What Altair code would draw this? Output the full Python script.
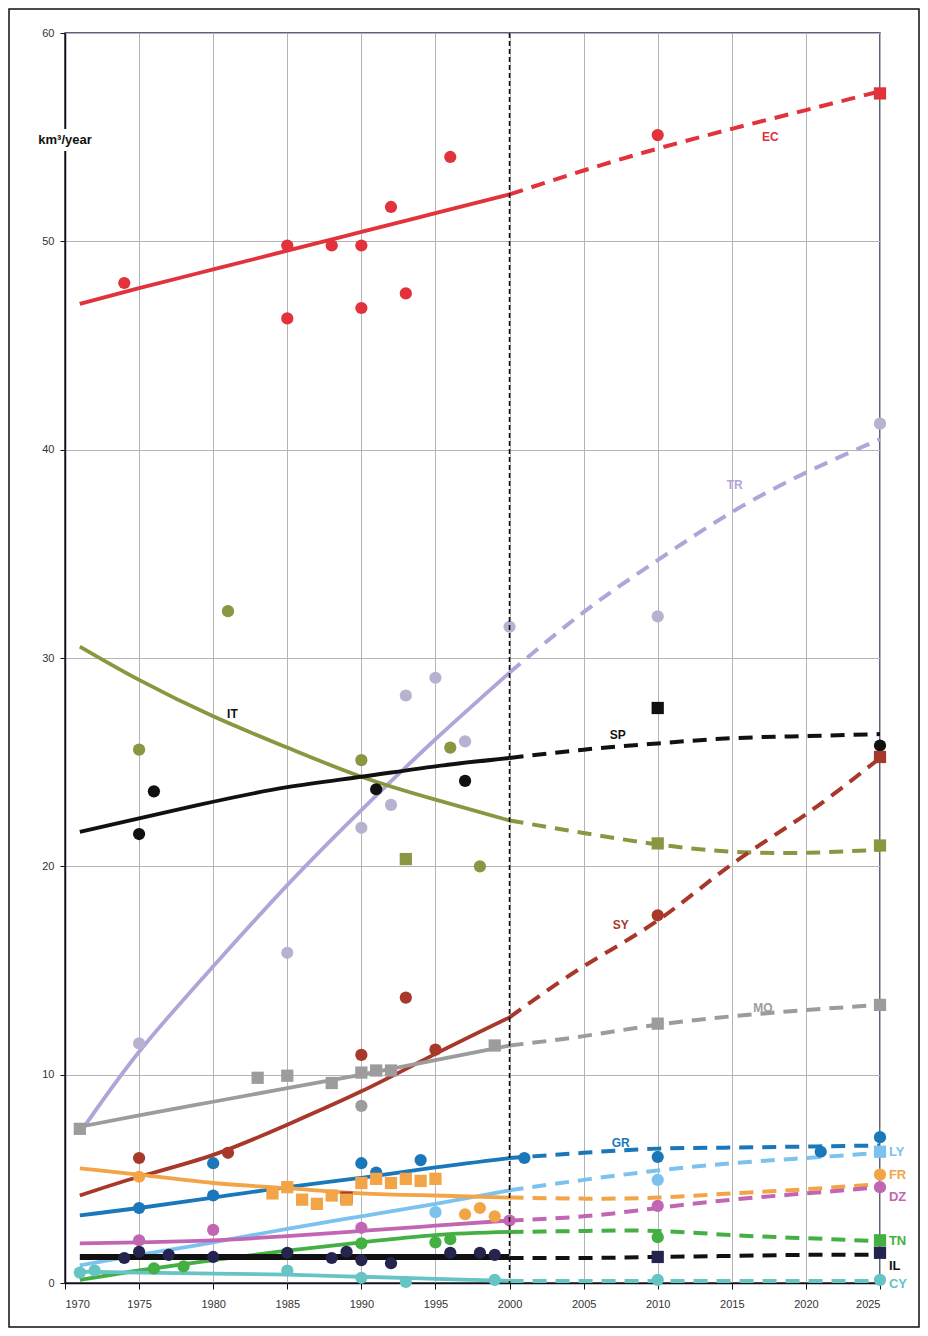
import altair as alt
import pandas as pd

# ---------------- data ----------------
SERIES = ["EC", "TR", "IT", "SP", "SY", "MO", "GR", "LY", "FR", "DZ", "TN", "IL", "CY"]

FIT_YEARS = [1971, 1975, 1980, 1985, 1990, 1995, 2000]
PROJ_YEARS = [2000, 2005, 2010, 2015, 2020, 2025]

EC_FIT = [47.0, 47.75, 48.65, 49.55, 50.45, 51.35, 52.25]
TR_FIT = [7.2, 11.1, 15.2, 19.1, 22.7, 26.1, 29.3]
IT_FIT = [30.55, 28.95, 27.2, 25.7, 24.3, 23.2, 22.2]
SP_FIT = [21.65, 22.3, 23.1, 23.8, 24.3, 24.8, 25.2]
SY_FIT = [4.2, 5.1, 6.15, 7.6, 9.2, 11.0, 12.75]
MO_FIT = [7.5, 8.05, 8.7, 9.35, 10.0, 10.7, 11.4]
GR_FIT = [3.25, 3.6, 4.1, 4.6, 5.05, 5.55, 6.0]
LY_FIT = [0.85, 1.35, 1.95, 2.6, 3.2, 3.8, 4.45]
FR_FIT = [5.5, 5.2, 4.8, 4.55, 4.3, 4.2, 4.1]
DZ_FIT = [1.9, 1.95, 2.05, 2.25, 2.5, 2.75, 3.0]
TN_FIT = [0.15, 0.6, 1.1, 1.55, 1.95, 2.3, 2.45]
IL_FIT = [1.25, 1.25, 1.25, 1.25, 1.25, 1.25, 1.25]
CY_FIT = [0.55, 0.5, 0.45, 0.4, 0.3, 0.2, 0.1]

EC_PROJ = [52.25, 53.4, 54.45, 55.4, 56.3, 57.2]
TR_PROJ = [29.3, 32.2, 34.7, 37.0, 38.9, 40.5]
IT_PROJ = [22.2, 21.6, 21.05, 20.7, 20.65, 20.8]
SP_PROJ = [25.2, 25.6, 25.9, 26.15, 26.25, 26.35]
SY_PROJ = [12.75, 15.2, 17.4, 20.1, 22.5, 25.2]
MO_PROJ = [11.4, 11.85, 12.4, 12.8, 13.1, 13.35]
GR_PROJ = [6.0, 6.25, 6.45, 6.5, 6.55, 6.6]
LY_PROJ = [4.45, 4.95, 5.4, 5.75, 6.0, 6.25]
FR_PROJ = [4.1, 4.05, 4.1, 4.3, 4.5, 4.75]
DZ_PROJ = [3.0, 3.2, 3.6, 4.0, 4.3, 4.6]
TN_PROJ = [2.45, 2.5, 2.5, 2.3, 2.15, 2.0]
IL_PROJ = [1.2, 1.2, 1.25, 1.3, 1.35, 1.35]
CY_PROJ = [0.1, 0.1, 0.1, 0.1, 0.1, 0.1]

# observed points: (year, value, marker)
EC_OBS = [(1974, 48.0, "circle"), (1985, 49.8, "circle"), (1985, 46.3, "circle"),
          (1988, 49.8, "circle"), (1990, 49.8, "circle"), (1990, 46.8, "circle"),
          (1992, 51.65, "circle"), (1993, 47.5, "circle"), (1996, 54.05, "circle"),
          (2010, 55.1, "circle"), (2025, 57.1, "square")]
TR_OBS = [(1975, 11.5, "circle"), (1985, 15.85, "circle"), (1990, 21.85, "circle"),
          (1992, 22.95, "circle"), (1993, 28.2, "circle"), (1995, 29.05, "circle"),
          (1997, 26.0, "circle"), (2000, 31.5, "circle"), (2010, 32.0, "circle"),
          (2025, 41.25, "circle")]
IT_OBS = [(1975, 25.6, "circle"), (1981, 32.25, "circle"), (1990, 25.1, "circle"),
          (1993, 20.35, "square"), (1996, 25.7, "circle"), (1998, 20.0, "circle"),
          (2010, 21.1, "square"), (2025, 21.0, "square")]
SP_OBS = [(1975, 21.55, "circle"), (1976, 23.6, "circle"), (1991, 23.7, "circle"),
          (1997, 24.1, "circle"), (2010, 27.6, "square"), (2025, 25.8, "circle")]
SY_OBS = [(1975, 6.0, "circle"), (1981, 6.25, "circle"), (1989, 4.1, "square"),
          (1990, 10.95, "circle"), (1993, 13.7, "circle"), (1995, 11.2, "circle"),
          (2010, 17.65, "circle"), (2025, 25.25, "square")]
MO_OBS = [(1971, 7.4, "square"), (1983, 9.85, "square"), (1985, 9.95, "square"),
          (1988, 9.6, "square"), (1990, 8.5, "circle"), (1990, 10.1, "square"),
          (1991, 10.2, "square"), (1992, 10.2, "square"), (1999, 11.4, "square"),
          (2010, 12.45, "square"), (2025, 13.35, "square")]
GR_OBS = [(1975, 3.6, "circle"), (1980, 5.75, "circle"), (1980, 4.2, "circle"),
          (1990, 5.75, "circle"), (1991, 5.3, "circle"), (1994, 5.9, "circle"),
          (2001, 6.0, "circle"), (2010, 6.05, "circle"), (2021, 6.3, "circle"),
          (2025, 7.0, "circle")]
LY_OBS = [(1995, 3.4, "circle"), (2010, 4.95, "circle"), (2025, 6.3, "square")]
FR_OBS = [(1975, 5.1, "circle"), (1984, 4.3, "square"), (1985, 4.6, "square"),
          (1986, 4.0, "square"), (1987, 3.8, "square"), (1988, 4.2, "square"),
          (1989, 4.0, "square"), (1990, 4.8, "square"), (1991, 5.0, "square"),
          (1992, 4.8, "square"), (1993, 5.0, "square"), (1994, 4.9, "square"),
          (1995, 5.0, "square"), (1997, 3.3, "circle"), (1998, 3.6, "circle"),
          (1999, 3.2, "circle"), (2025, 5.2, "circle")]
DZ_OBS = [(1975, 2.05, "circle"), (1980, 2.55, "circle"), (1990, 2.65, "circle"),
          (2000, 3.0, "circle"), (2010, 3.7, "circle"), (2025, 4.6, "circle")]
TN_OBS = [(1976, 0.7, "circle"), (1978, 0.8, "circle"), (1990, 1.9, "circle"),
          (1995, 1.95, "circle"), (1996, 2.1, "circle"), (2010, 2.2, "circle"),
          (2025, 2.05, "square")]
IL_OBS = [(1974, 1.2, "circle"), (1975, 1.5, "circle"), (1977, 1.35, "circle"),
          (1980, 1.25, "circle"), (1985, 1.45, "circle"), (1988, 1.2, "circle"),
          (1989, 1.5, "circle"), (1990, 1.1, "circle"), (1992, 0.95, "circle"),
          (1996, 1.45, "circle"), (1998, 1.45, "circle"), (1999, 1.35, "circle"),
          (2010, 1.25, "square"), (2025, 1.45, "square")]
CY_OBS = [(1971, 0.5, "circle"), (1972, 0.6, "circle"), (1985, 0.6, "circle"),
          (1990, 0.25, "circle"), (1993, 0.05, "circle"), (1999, 0.15, "circle"),
          (2010, 0.15, "circle"), (2025, 0.15, "circle")]

# label anchors (year, value)
LABELS = {"EC": (2017.6, 55.0), "TR": (2015.2, 38.3), "IT": (1981.3, 27.3),
          "SP": (2007.3, 26.3), "SY": (2007.5, 17.2), "MO": (2017.1, 13.2),
          "GR": (2007.5, 6.7), "LY": (2025.6, 6.3), "FR": (2025.6, 5.2),
          "DZ": (2025.6, 4.15), "TN": (2025.6, 2.0), "IL": (2025.6, 0.8),
          "CY": (2025.6, -0.05)}

LINE_COLORS = {"EC": "#e2323c", "TR": "#b2a4d8", "IT": "#8c9640", "SP": "#111111",
               "SY": "#a8382a", "MO": "#9c9c9c", "GR": "#1a78ba", "LY": "#7cc2ee",
               "FR": "#f2a446", "DZ": "#c266b4", "TN": "#44b044", "IL": "#111111",
               "CY": "#66c4c4"}
POINT_COLORS = dict(LINE_COLORS, TR="#b8b2d0", IL="#24244e")
LABEL_COLORS = dict(LINE_COLORS, IT="#111111", IL="#111111")

FIT = {"EC": EC_FIT, "TR": TR_FIT, "IT": IT_FIT, "SP": SP_FIT, "SY": SY_FIT,
       "MO": MO_FIT, "GR": GR_FIT, "LY": LY_FIT, "FR": FR_FIT, "DZ": DZ_FIT,
       "TN": TN_FIT, "IL": IL_FIT, "CY": CY_FIT}
PROJ = {"EC": EC_PROJ, "TR": TR_PROJ, "IT": IT_PROJ, "SP": SP_PROJ, "SY": SY_PROJ,
        "MO": MO_PROJ, "GR": GR_PROJ, "LY": LY_PROJ, "FR": FR_PROJ, "DZ": DZ_PROJ,
        "TN": TN_PROJ, "IL": IL_PROJ, "CY": CY_PROJ}
OBS = {"EC": EC_OBS, "TR": TR_OBS, "IT": IT_OBS, "SP": SP_OBS, "SY": SY_OBS,
       "MO": MO_OBS, "GR": GR_OBS, "LY": LY_OBS, "FR": FR_OBS, "DZ": DZ_OBS,
       "TN": TN_OBS, "IL": IL_OBS, "CY": CY_OBS}

# ---------------- tables ----------------
fit_rows, proj_rows, obs_rows, lab_rows = [], [], [], []
for s in SERIES:
    for y, v in zip(FIT_YEARS, FIT[s]):
        fit_rows.append({"series": s, "year": y, "value": v, "color": LINE_COLORS[s]})
    for y, v in zip(PROJ_YEARS, PROJ[s]):
        proj_rows.append({"series": s, "year": y, "value": v, "color": LINE_COLORS[s]})
    for y, v, m in OBS[s]:
        obs_rows.append({"series": s, "year": y, "value": v, "shape": m,
                         "color": POINT_COLORS[s]})
    ly, lv = LABELS[s]
    lab_rows.append({"series": s, "year": ly, "value": lv, "color": LABEL_COLORS[s],
                     "right": ly > 2025})

fit_df = pd.DataFrame(fit_rows)
proj_df = pd.DataFrame(proj_rows)
obs_df = pd.DataFrame(obs_rows)
lab_df = pd.DataFrame(lab_rows)

W, H = 815, 1250
PAD_L, PAD_T, PAD_R, PAD_B = 57, 25, 40, 45

xs = alt.Scale(domain=[1970, 2025], nice=False, zero=False)
ys = alt.Scale(domain=[0, 60], nice=False)

X = alt.X("year:Q", scale=xs,
          axis=alt.Axis(values=list(range(1970, 2026, 5)), format="d", title=None,
                        grid=True, tickSize=6, labelPadding=9))
Y = alt.Y("value:Q", scale=ys,
          axis=alt.Axis(values=list(range(0, 61, 10)), title=None, grid=True,
                        tickSize=5, labelPadding=6))

fit_main = alt.Chart(fit_df[fit_df.series != "IL"]).mark_line(
    strokeWidth=3.8, interpolate="natural").encode(
    x=X, y=Y, color=alt.Color("color:N", scale=None), detail="series:N")

fit_il = alt.Chart(fit_df[fit_df.series == "IL"]).mark_line(
    strokeWidth=6, interpolate="natural").encode(
    x=X, y=Y, color=alt.Color("color:N", scale=None), detail="series:N")

proj = alt.Chart(proj_df).mark_line(
    strokeWidth=4, strokeDash=[14, 9], interpolate="natural").encode(
    x=X, y=Y, color=alt.Color("color:N", scale=None), detail="series:N")

pts = alt.Chart(obs_df).mark_point(filled=True, opacity=1, size=150).encode(
    x=X, y=Y, color=alt.Color("color:N", scale=None),
    shape=alt.Shape("shape:N", scale=None))

lab_in = alt.Chart(lab_df[~lab_df.right]).mark_text(
    fontSize=12, fontWeight="bold", font="Liberation Sans", align="center",
    baseline="middle").encode(
    x=X, y=Y, text="series:N", color=alt.Color("color:N", scale=None))

lab_out = alt.Chart(lab_df[lab_df.right]).mark_text(
    fontSize=13, fontWeight="bold", font="Liberation Sans", align="left",
    baseline="middle").encode(
    x=X, y=Y, text="series:N", color=alt.Color("color:N", scale=None))

rule2000 = alt.Chart(pd.DataFrame({"year": [2000]})).mark_rule(
    color="#111111", strokeWidth=1.6, strokeDash=[5, 3]).encode(x=alt.X("year:Q", scale=xs))

title_bg = alt.Chart(pd.DataFrame({"a": [0]})).mark_rect(fill="white").encode(
    x=alt.value(-38), x2=alt.value(38), y=alt.value(96), y2=alt.value(118))
title_txt = alt.Chart(pd.DataFrame({"t": ["km³/year"]})).mark_text(
    fontSize=13, fontWeight="bold", font="Liberation Sans", align="center",
    baseline="middle", color="#111111").encode(
    x=alt.value(0), y=alt.value(107), text="t:N")

frame = alt.Chart(pd.DataFrame({"a": [0]})).mark_rect(
    fill=None, stroke="#111111", strokeWidth=1.5).encode(
    x=alt.value(-PAD_L + 1), x2=alt.value(W + PAD_R - 1),
    y=alt.value(-PAD_T + 1), y2=alt.value(H + PAD_B - 1))

chart = alt.layer(
    fit_main, fit_il, proj, pts, rule2000, lab_in, lab_out, title_bg, title_txt, frame
).properties(
    width=W, height=H,
    autosize=alt.AutoSizeParams(type="none"),
    padding={"left": PAD_L, "top": PAD_T, "right": PAD_R, "bottom": PAD_B},
    background="white",
).configure_view(
    stroke="#2c2c58", strokeWidth=1.5
).configure_axis(
    domainColor="#111111", domainWidth=1.5, tickColor="#111111",
    gridColor="#b4b4b4", gridWidth=1,
    labelFont="Liberation Sans", labelFontSize=11, labelColor="#333333"
)

chart.save("out.html", embed_options={"renderer": "svg", "actions": False})
